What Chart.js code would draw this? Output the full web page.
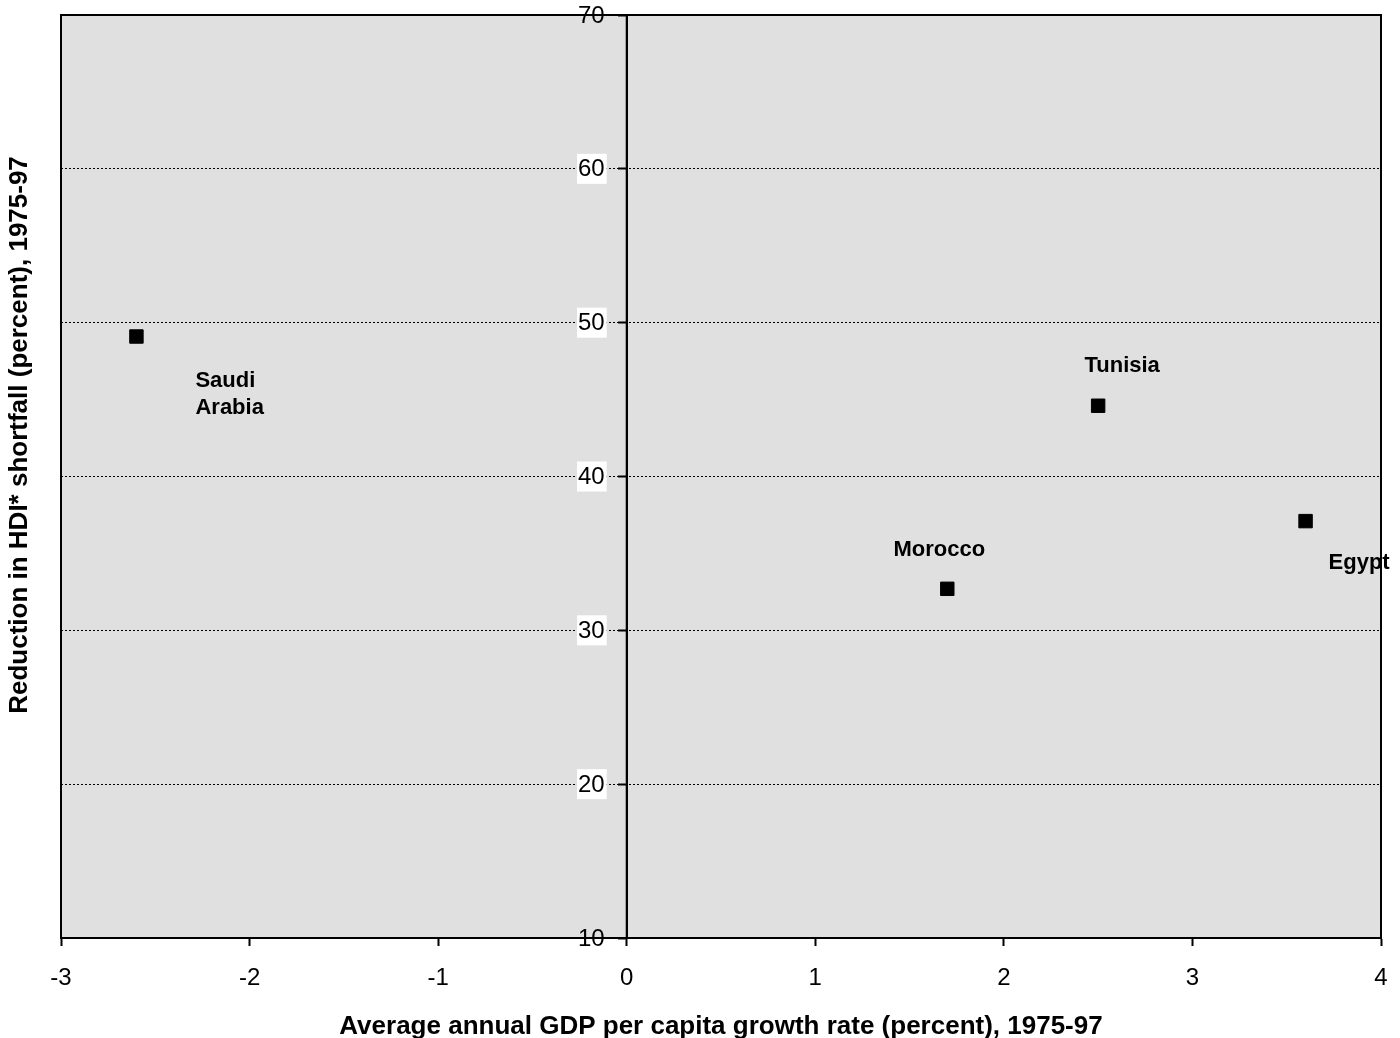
<!DOCTYPE html>
<html>
<head>
<meta charset="utf-8">
<script src="https://cdn.jsdelivr.net/npm/chart.js@4.4.0/dist/chart.umd.min.js"></script>
<style>
  html, body { margin: 0; padding: 0; background: #fff; }
  #wrap { width: 1400px; height: 1038px; }
</style>
</head>
<body>
<div id="wrap"><canvas id="hdiChart"></canvas></div>
<script>
  // data
  const countries = ["Saudi Arabia", "Tunisia", "Egypt", "Morocco"];
  const gdpGrowth = [-2.6, 2.5, 3.6, 1.7];
  const hdiReduction = [49.1, 44.6, 37.1, 32.7];
  const xRange = [-3, 4];
  const yRange = [10, 70];

  const FONT = "'Liberation Sans', Arial, sans-serif";

  // where each country name sits relative to its point (pixels)
  const labelPlace = {
    "Saudi Arabia": { dx: 59, dy: 44, align: "left", lines: ["Saudi", "Arabia"] },
    "Tunisia": { dx: 24, dy: -40, align: "center", lines: ["Tunisia"] },
    "Egypt": { dx: 23, dy: 42, align: "left", lines: ["Egypt"] },
    "Morocco": { dx: -8, dy: -39, align: "center", lines: ["Morocco"] }
  };

  const plotFrame = {
    id: "plotFrame",
    beforeDraw(chart) {
      const { ctx, chartArea: a } = chart;
      ctx.save();
      ctx.fillStyle = "#e0e0e0";
      ctx.fillRect(a.left, a.top, a.right - a.left, a.bottom - a.top);
      ctx.restore();
    },
    afterDatasetsDraw(chart) {
      const { ctx, chartArea: a, scales } = chart;
      ctx.save();
      ctx.strokeStyle = "#000";
      ctx.lineWidth = 2;
      ctx.setLineDash([]);
      ctx.beginPath();
      ctx.moveTo(a.left, a.bottom);
      ctx.lineTo(a.left, a.top);
      ctx.lineTo(a.right, a.top);
      ctx.lineTo(a.right, a.bottom);
      const x0 = scales.x.getPixelForValue(0);
      ctx.moveTo(x0, a.top);
      ctx.lineTo(x0, a.bottom);
      ctx.stroke();

      // y tick labels, left of the zero axis, white box on inner ones
      ctx.font = "24px " + FONT;
      ctx.textAlign = "right";
      ctx.textBaseline = "middle";
      scales.y.ticks.forEach(t => {
        const ty = scales.y.getPixelForValue(t.value);
        const txt = String(t.value);
        const w = ctx.measureText(txt).width;
        const right = x0 - 22;
        if (t.value !== yRange[0] && t.value !== yRange[1]) {
          ctx.fillStyle = "#fff";
          ctx.fillRect(right - w - 1, ty - 15, w + 3, 30);
        }
        ctx.fillStyle = "#000";
        ctx.fillText(txt, right, ty + 1);
      });

      // country names
      ctx.fillStyle = "#000";
      ctx.font = "bold 22px " + FONT;
      countries.forEach((name, i) => {
        const p = labelPlace[name];
        const px = scales.x.getPixelForValue(gdpGrowth[i]);
        const py = scales.y.getPixelForValue(hdiReduction[i]);
        ctx.textAlign = p.align;
        p.lines.forEach((line, j) => {
          ctx.fillText(line, px + p.dx, py + p.dy + j * 27);
        });
      });

      // y axis title
      ctx.font = "bold 26px " + FONT;
      ctx.textAlign = "center";
      ctx.translate(20, 435);
      ctx.rotate(-Math.PI / 2);
      ctx.fillText("Reduction in HDI* shortfall (percent), 1975-97", 0, 0);
      ctx.restore();
    }
  };

  new Chart(document.getElementById("hdiChart"), {
    type: "scatter",
    data: {
      datasets: [{
        label: "HDI shortfall reduction",
        data: countries.map((c, i) => ({ x: gdpGrowth[i], y: hdiReduction[i] })),
        pointStyle: "rect",
        pointRadius: 9.5,
        pointHoverRadius: 9.5,
        pointBackgroundColor: "#000",
        pointBorderColor: "#000",
        pointBorderWidth: 1
      }]
    },
    options: {
      responsive: true,
      maintainAspectRatio: false,
      animation: false,
      layout: { padding: { left: 61, right: 19, top: 15, bottom: -4 } },
      plugins: { legend: { display: false }, tooltip: { enabled: false } },
      scales: {
        x: {
          type: "linear",
          position: "bottom",
          min: xRange[0],
          max: xRange[1],
          afterFit: (scale) => { scale.paddingRight = 0; },
          ticks: { stepSize: 1, color: "#000", font: { family: FONT, size: 24 }, padding: 18, maxRotation: 0 },
          grid: { display: true, drawOnChartArea: false, drawTicks: true, tickLength: 8, tickColor: "#000", tickWidth: 2 },
          border: { display: true, color: "#000", width: 2 },
          title: {
            display: true,
            text: "Average annual GDP per capita growth rate (percent), 1975-97",
            color: "#000",
            font: { family: FONT, size: 26, weight: "bold" },
            padding: { top: 0, bottom: 0 }
          }
        },
        y: {
          type: "linear",
          position: { x: 0 },
          min: yRange[0],
          max: yRange[1],
          ticks: { stepSize: 10, display: false },
          grid: { color: "#000", lineWidth: 1, tickLength: 8, tickColor: "#000", tickWidth: 2, borderDash: [2, 2] },
          border: { display: true, color: "#000", width: 2, dash: [2, 2] }
        }
      }
    },
    plugins: [plotFrame]
  });
</script>
</body>
</html>
